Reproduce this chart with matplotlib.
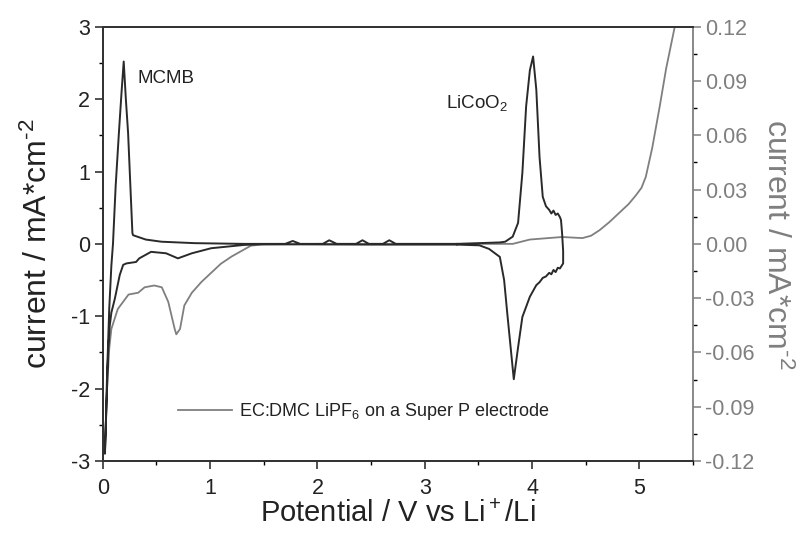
import matplotlib
matplotlib.use("Agg")
import matplotlib.pyplot as plt
from matplotlib.ticker import MultipleLocator, FormatStrFormatter
from matplotlib.lines import Line2D

plt.rcParams['font.family'] = ['Liberation Sans', 'DejaVu Sans']
plt.rcParams['axes.unicode_minus'] = False
plt.rcParams['mathtext.fontset'] = 'custom'
plt.rcParams['mathtext.rm'] = 'Liberation Sans'
plt.rcParams['mathtext.it'] = 'Liberation Sans'
plt.rcParams['mathtext.bf'] = 'Liberation Sans:bold'

# MCMB CV (left axis, mA/cm^2): cathodic sweep then anodic sweep
mcmb_x = [3.30, 2.50, 1.50, 1.32, 1.01, 0.83, 0.70, 0.59, 0.45, 0.34, 0.31, 0.22, 0.19,
          0.158, 0.112, 0.08, 0.065, 0.05, 0.035, 0.02,
          0.03, 0.04, 0.06, 0.08, 0.095, 0.12, 0.15, 0.175, 0.195, 0.215, 0.236, 0.26,
          0.276, 0.282, 0.40, 0.546, 0.857, 1.32, 1.70, 1.77, 1.84, 2.05, 2.11, 2.18,
          2.36, 2.42, 2.48, 2.61, 2.67, 2.73, 3.00, 3.30]
mcmb_y = [-0.01, -0.01, -0.005, -0.014, -0.06, -0.13, -0.20, -0.13, -0.11, -0.20, -0.25, -0.27, -0.29,
          -0.43, -0.76, -0.95, -1.13, -1.50, -2.20, -2.90,
          -2.40, -1.80, -0.90, -0.30, 0.00, 0.80, 1.53, 2.10, 2.52, 2.00, 1.53, 0.70,
          0.15, 0.12, 0.06, 0.03, 0.01, 0.00, 0.00, 0.04, 0.00, 0.00, 0.05, 0.00,
          0.00, 0.05, 0.00, 0.00, 0.05, 0.00, 0.00, 0.00]

# LiCoO2 CV (left axis)
lco_x = [3.30, 3.50, 3.70, 3.75, 3.82, 3.87, 3.91, 3.945, 3.98, 4.01, 4.04, 4.07, 4.10,
         4.13, 4.16, 4.18, 4.20, 4.22, 4.24, 4.26, 4.27, 4.28, 4.29, 4.29,
         4.26, 4.24, 4.22, 4.20, 4.18, 4.16, 4.13, 4.10, 4.07, 4.04, 3.98, 3.91, 3.87,
         3.83, 3.81, 3.77, 3.74, 3.70, 3.60, 3.51, 3.30]
lco_y = [0.00, 0.01, 0.02, 0.03, 0.10, 0.29, 0.98, 1.90, 2.40, 2.59, 2.13, 1.20, 0.65,
         0.52, 0.47, 0.42, 0.46, 0.40, 0.42, 0.37, 0.33, 0.15, -0.10, -0.27,
         -0.34, -0.33, -0.39, -0.36, -0.42, -0.40, -0.45, -0.47, -0.53, -0.57, -0.73, -1.01, -1.43,
         -1.87, -1.57, -0.97, -0.50, -0.18, -0.07, -0.02, -0.01]

# EC:DMC LiPF6 on Super P (right axis, mA/cm^2)
sp_x = [0.02, 0.04, 0.06, 0.08, 0.14, 0.24, 0.33, 0.39, 0.48, 0.55, 0.61, 0.67, 0.685,
        0.72, 0.76, 0.83, 0.92, 1.01, 1.10, 1.20, 1.29, 1.38, 1.47, 2.00, 3.00, 3.50,
        3.82, 3.98, 4.28, 4.47, 4.55, 4.63, 4.72, 4.81, 4.90, 4.97, 5.02, 5.06, 5.12,
        5.19, 5.25, 5.33]
sp_y = [-0.112, -0.080, -0.058, -0.047, -0.036, -0.028, -0.027, -0.024, -0.023, -0.024,
        -0.032, -0.047, -0.050, -0.047, -0.034, -0.027, -0.021, -0.016, -0.011, -0.007,
        -0.004, -0.001, -0.0004, 0.0, 0.0, 0.0, 0.0, 0.0024, 0.0038, 0.0032, 0.0045,
        0.0076, 0.012, 0.017, 0.022, 0.027, 0.031, 0.037, 0.053, 0.076, 0.097, 0.120]

legend_label = "EC:DMC LiPF$_6$ on a Super P electrode"
ylabel_text = "current / mA*cm$^{\\text{-2}}$"

black = '#2a2a2a'
gray = '#7f7f7f'

fig = plt.figure(figsize=(8.03, 5.36), dpi=100)
ax = fig.add_axes([0.128, 0.140, 0.735, 0.810])
ax2 = ax.twinx()

ax.plot(mcmb_x, mcmb_y, color=black, lw=1.4, zorder=3)
ax.plot(lco_x, lco_y, color=black, lw=1.4, zorder=3)
ax2.plot(sp_x, sp_y, color=gray, lw=1.3)
ax.set_zorder(ax2.get_zorder() + 1)
ax.patch.set_visible(False)

ax.set_xlim(0, 5.5)
ax.set_ylim(-3, 3)
ax2.set_ylim(-0.12, 0.12)

ax.xaxis.set_major_locator(MultipleLocator(1))
ax.xaxis.set_minor_locator(MultipleLocator(0.5))
ax.yaxis.set_major_locator(MultipleLocator(1))
ax.yaxis.set_minor_locator(MultipleLocator(0.5))
ax2.yaxis.set_major_locator(MultipleLocator(0.03))
ax2.yaxis.set_minor_locator(MultipleLocator(0.015))
ax2.yaxis.set_major_formatter(FormatStrFormatter('%.2f'))

for a in (ax, ax2):
    a.tick_params(which='major', direction='out', length=6, width=1.1, labelsize=15.5)
    a.tick_params(which='minor', direction='out', length=3, width=1.0)
ax.tick_params(axis='both', colors='#222222', labelcolor='#222222')
ax2.tick_params(axis='y', colors=gray, labelcolor=gray, pad=3)
ax.tick_params(axis='x', pad=6)
ax.tick_params(axis='y', pad=3)

for s in ax.spines.values():
    s.set_linewidth(1.3)
    s.set_color('#333333')
for name, s in ax2.spines.items():
    s.set_linewidth(1.3)
    s.set_color('#333333')
ax2.spines['right'].set_color(gray)
ax.spines['right'].set_visible(False)

ax.set_xlabel("Potential / V vs Li$^+$/Li", fontsize=21, color='#222222', labelpad=1)
ax.set_ylabel(ylabel_text, fontsize=23, color='#222222', labelpad=12)
ax2.set_ylabel(ylabel_text, fontsize=23, color=gray, rotation=270, labelpad=26)

ax.text(0.32, 2.28, "MCMB", fontsize=13.5, color='#222222', ha='left', va='center')
ax.text(3.2, 1.95, "LiCoO$_2$", fontsize=13.5, color='#222222', ha='left', va='center')

handle = Line2D([], [], color=gray, lw=1.3)
ax.legend([handle], [legend_label], loc='center left', bbox_to_anchor=(0.10, 0.113),
          frameon=False, fontsize=13, handlelength=3.0, handletextpad=0.4,
          labelcolor='#222222')

fig.savefig("out.png", dpi=100)
